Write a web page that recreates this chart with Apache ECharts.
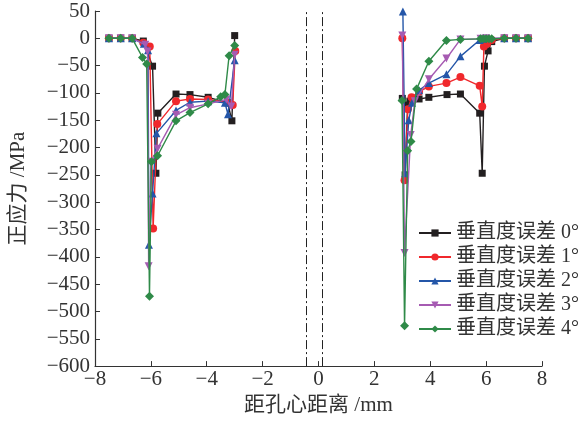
<!DOCTYPE html>
<html>
<head>
<meta charset="utf-8">
<script src="https://cdn.jsdelivr.net/npm/echarts@6/dist/echarts.min.js"></script>
<style>html,body{margin:0;padding:0;background:#fff;}#c{width:583px;height:421px;}</style>
</head>
<body>
<div id="c"></div>
<script>
// Series names
const seriesNames = ['垂直度误差 0°', '垂直度误差 1°', '垂直度误差 2°', '垂直度误差 3°', '垂直度误差 4°'];

// Left side (x < 0) data, [distance mm, stress MPa]
const err0Left = [[-7.5,0],[-7.08,0],[-6.67,0],[-6.27,-5],[-5.94,-51],[-5.82,-247],[-5.75,-137],[-5.1,-102],[-4.6,-103],[-3.95,-108],[-3.25,-118],[-3.1,-151],[-3.0,5]];
const err1Left = [[-7.5,0],[-7.08,0],[-6.67,0],[-6.27,-8],[-6.04,-15],[-5.92,-348],[-5.77,-157],[-5.1,-115],[-4.6,-111],[-3.95,-112],[-3.25,-118],[-3.07,-122],[-2.98,-23]];
const err2Left = [[-7.5,0],[-7.08,0],[-6.67,0],[-6.25,-10],[-6.1,-22],[-6.07,-378],[-5.94,-284],[-5.8,-174],[-5.1,-132],[-4.6,-117],[-3.95,-115],[-3.35,-118],[-3.24,-139],[-3.0,-40]];
const err3Left = [[-7.5,0],[-7.08,0],[-6.67,0],[-6.2,-12],[-6.12,-24],[-6.08,-417],[-6.0,-226],[-5.76,-202],[-5.1,-140],[-4.6,-127],[-3.95,-120],[-3.3,-112],[-3.12,-125],[-3.0,-30]];
const err4Left = [[-7.5,0],[-7.08,0],[-6.67,0],[-6.3,-35],[-6.15,-47],[-6.05,-472],[-5.98,-226],[-5.76,-215],[-5.1,-151],[-4.6,-136],[-3.95,-120],[-3.5,-107],[-3.35,-103],[-3.2,-32],[-3.0,-13]];

// Right side (x > 0) data
const err0Right = [[3.0,-110],[3.1,-250],[3.19,-122],[3.27,-115],[3.6,-111],[3.95,-108],[4.6,-103],[5.08,-102],[5.77,-137],[5.86,-247],[5.94,-51],[6.07,-23],[6.2,-6],[6.65,0],[7.07,0],[7.5,0]];
const err1Right = [[3.0,0],[3.08,-260],[3.2,-130],[3.33,-108],[3.6,-98],[3.95,-88],[4.58,-82],[5.08,-71],[5.77,-87],[5.86,-125],[5.92,-15],[6.04,-10],[6.2,-3],[6.65,0],[7.07,0],[7.5,0]];
const err2Right = [[3.02,49],[3.1,-247],[3.23,-150],[3.35,-118],[3.6,-95],[3.95,-82],[4.58,-66],[5.08,-33],[5.77,-3],[5.9,-1],[6.65,0],[7.07,0],[7.5,0]];
const err3Right = [[3.0,5],[3.08,-393],[3.3,-177],[3.45,-115],[3.95,-75],[4.58,-37],[5.08,-2],[5.8,-1],[6.0,0],[6.65,0],[7.07,0],[7.5,0]];
const err4Right = [[2.99,-114],[3.08,-526],[3.19,-206],[3.31,-189],[3.51,-93],[3.95,-42],[4.58,-4],[5.08,-2],[5.8,-1],[5.9,-1],[6.0,-1],[6.1,-1],[6.2,-1],[6.65,0],[7.07,0],[7.5,0]];

// Dash-dot reference lines (hole edges)
const refLines = [-0.45, 0.15];

// Axis ranges
const xMin = -8, xMax = 8, xStep = 2;
const yMin = -600, yMax = 50, yStep = 50;

const leftData = [err0Left, err1Left, err2Left, err3Left, err4Left];
const rightData = [err0Right, err1Right, err2Right, err3Right, err4Right];
const colors = ['#231f20', '#f0282c', '#2456a8', '#a65bb2', '#2f8a48'];
const symbols = ['rect', 'circle', 'triangle', 'triangle', 'diamond'];
const rotations = [0, 0, 0, 180, 0];
const sizes = [7, 8, 8, 8, 9];

const fmt = v => (v < 0 ? '\u2212' + Math.abs(v) : String(v));
const serif = '"Liberation Serif", "Noto Sans CJK SC", serif';

const series = [];
for (let i = 0; i < 5; i++) {
  [leftData[i], rightData[i]].forEach((d, k) => {
    series.push({
      name: seriesNames[i],
      type: 'line',
      data: d,
      symbol: symbols[i],
      symbolRotate: rotations[i],
      symbolSize: sizes[i],
      color: colors[i],
      lineStyle: { width: 1.4, color: colors[i] },
      itemStyle: { color: colors[i] },
      z: 2 + i,
      animation: false,
      markLine: (i === 0 && k === 0) ? {
        silent: true, symbol: 'none', label: { show: false },
        lineStyle: { color: '#222', width: 1, type: [9, 3, 2, 3] },
        data: refLines.map(x => ({ xAxis: x }))
      } : undefined
    });
  });
}

const chart = echarts.init(document.getElementById('c'), null, { renderer: 'canvas' });
chart.setOption({
  backgroundColor: '#fff',
  animation: false,
  grid: { left: 93, right: 41, top: 11, bottom: 47 },
  legend: {
    orient: 'vertical',
    left: 413, top: 218,
    itemWidth: 32, itemHeight: 9, itemGap: 4,
    textStyle: { fontFamily: serif, fontSize: 20, color: '#333', lineHeight: 20 },
    data: seriesNames
  },
  xAxis: {
    type: 'value', min: xMin, max: xMax, interval: xStep,
    name: '距孔心距离 /mm', nameLocation: 'middle', nameGap: 25,
    nameTextStyle: { fontFamily: serif, fontSize: 21, color: '#333' },
    axisLine: { onZero: false, lineStyle: { color: '#333', width: 1.2 } },
    axisTick: { inside: true, length: 5, lineStyle: { color: '#333' } },
    axisLabel: { fontFamily: serif, fontSize: 21, color: '#333', margin: 3, formatter: fmt },
    splitLine: { show: false }
  },
  yAxis: {
    type: 'value', min: yMin, max: yMax, interval: yStep,
    name: '正应力 /MPa', nameLocation: 'middle', nameGap: 66,
    nameTextStyle: { fontFamily: serif, fontSize: 21, color: '#333' },
    axisLine: { show: true, onZero: false, lineStyle: { color: '#333', width: 1.2 } },
    axisTick: { show: true, inside: true, length: 5, lineStyle: { color: '#333' } },
    axisLabel: { fontFamily: serif, fontSize: 21, color: '#333', margin: 5, formatter: fmt },
    splitLine: { show: false }
  },
  series: series
});
</script>
</body>
</html>
